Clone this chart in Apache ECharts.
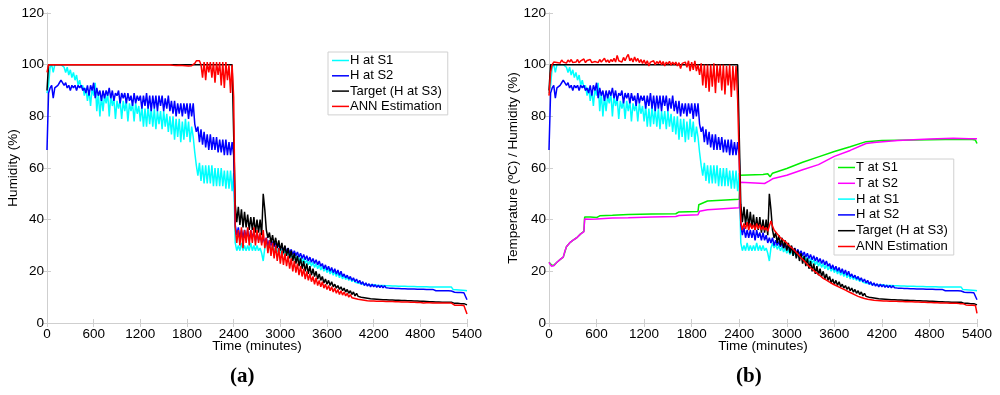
<!DOCTYPE html>
<html><head><meta charset="utf-8">
<script src="https://cdn.jsdelivr.net/npm/echarts@6/dist/echarts.min.js"></script>
<style>html,body{margin:0;padding:0;background:#fff}#c{width:1000px;height:395px}</style>
</head><body><div id="c"></div>
<script>
// time grid: one sample every STEP minutes, 0..5400
const STEP = 20;
const xTicks = [0, 600, 1200, 1800, 2400, 3000, 3600, 4200, 4800, 5400];
const yTicks = [0, 20, 40, 60, 80, 100, 120];
const legendA = ['H at S1', 'H at S2', 'Target (H at S3)', 'ANN Estimation'];
const legendB = ['T at S1', 'T at S2', 'H at S1', 'H at S2', 'Target (H at S3)', 'ANN Estimation'];

// Humidity at S1 (%), rows of 10 samples (200 min each)
const hS1 = [
 89, 92, 99, 100, 97, 100, 100, 100, 100, 100,
 100, 99, 97, 99, 96, 98, 95, 97, 94, 96,
 92, 94, 91, 92, 88, 91, 86, 90, 84, 91,
 88, 93, 82, 89, 80, 88, 82, 88, 85, 89,
 80, 88, 84, 87, 79, 86, 83, 86, 79, 86,
 82, 86, 78, 85, 82, 85, 78, 85, 81, 84,
 78, 84, 76, 83, 76, 84, 77, 83, 76, 83,
 75, 82, 77, 82, 75, 82, 76, 81, 74, 80,
 73, 80, 71, 79, 72, 79, 70, 78, 71, 79,
 72, 78, 70, 76, 72, 66, 61, 57, 62, 55,
 61, 54, 61, 54, 61, 54, 61, 53, 60, 53,
 60, 53, 60, 53, 59, 52, 59, 52, 59, 51,
 58, 31, 28, 30, 28, 31, 28, 30, 28, 30,
 28, 31, 28, 30, 28, 30, 28, 29, 27, 24,
 29, 31, 29, 30.5, 28.5, 30, 28, 29.5, 27.5, 29,
 27, 28.5, 26.5, 28, 26, 27.5, 25.5, 27, 25, 26.5,
 24.5, 26, 24, 25.5, 23.5, 25, 23, 24.5, 22.5, 24,
 22, 23.5, 21.5, 23, 21, 22.5, 20.5, 22, 20, 21.5,
 19.5, 21, 19, 20.5, 18.5, 20, 18, 19.5, 17.5, 19,
 17, 18.5, 16.8, 18, 16.5, 17.5, 16, 17, 15.8, 16.5,
 15.5, 16, 15.2, 15.8, 15, 15.6, 14.8, 15.5, 14.7, 15.3,
 14.8, 15.2, 14.6, 15, 14.5, 15.1, 14.5, 14.9, 14.4, 15,
 14.4, 14.8, 14.3, 14.9, 14.3, 14.7, 14.2, 14.8, 14.2, 14.6,
 14.2, 14.7, 14.1, 14.5, 14.1, 14.6, 14.1, 14.5, 14, 14.6,
 14, 14.4, 14, 14.5, 14, 14.3, 13.9, 14.4, 13.9, 14.2,
 13.9, 14.1, 13.9, 14, 13.9, 13.9, 13.9, 13.9, 13.9, 13.9,
 13.9, 13, 12.9, 12.9, 12.8, 12.8, 12.8, 12.7, 12.7, 12.6,
 12.5
];

// Humidity at S2 (%)
const hS2 = [
 67, 89, 91, 92, 87, 91, 91, 92, 93, 94,
 94, 92, 93, 91, 92, 90, 92, 91, 92, 90,
 92, 91, 92, 90, 91, 89, 92, 88, 92, 90,
 93, 87, 91, 88, 90, 86, 90, 87, 90, 88,
 91, 87, 90, 86, 89, 88, 90, 85, 89, 87,
 89, 85, 89, 86, 88, 84, 89, 85, 88, 86,
 88, 83, 88, 84, 89, 83, 88, 82, 88, 83,
 88, 82, 88, 84, 88, 82, 87, 83, 88, 82,
 86, 81, 86, 80, 85, 81, 85, 80, 85, 81,
 85, 79, 85, 80, 85, 77, 74, 76, 70, 75,
 69, 74, 68, 73, 67, 73, 67, 72, 67, 72,
 66, 71, 66, 71, 65, 71, 65, 70, 65, 70,
 65, 38, 34, 37, 33, 36, 33, 36, 33, 36,
 32, 36, 33, 35, 32, 35, 32, 34, 31, 33,
 31, 33, 30, 32, 30, 31.5, 29.5, 31, 29, 30.5,
 28.5, 30, 28, 29.5, 27.5, 29, 27, 28.5, 26.5, 28,
 26, 27.5, 25.5, 27, 25, 26.5, 24.5, 26, 24, 25.5,
 23.5, 25, 23, 24.5, 22.5, 24, 22, 23, 21, 22.5,
 20.5, 22, 20, 21.5, 19.5, 21, 19, 20.5, 18.5, 20,
 18, 19, 17.5, 18.5, 17, 18, 16.5, 17.5, 16, 17,
 15.5, 16.5, 15, 16, 14.5, 15.5, 14.3, 15.2, 14, 15,
 14, 14.8, 13.8, 14.6, 13.7, 14.5, 13.6, 14.4, 13.6, 14.3,
 13.5, 14.2, 13.5, 14.1, 13.4, 14, 13.4, 14, 13.3, 13.9,
 13.3, 13.9, 13.2, 13.8, 13.2, 13.7, 13.2, 13.7, 13.1, 13.6,
 13.1, 13.5, 13.1, 13.5, 13, 13.4, 13, 13.3, 13, 12.5,
 12.5, 12.6, 12.5, 12.6, 12.5, 12.5, 12.5, 12.5, 12.5, 12.5,
 12.4, 11.9, 11.9, 11.9, 11.8, 11.8, 11.8, 11.8, 11.7, 11.7,
 9
];

// Target: humidity at S3 (%)
const target = [
 90, 100, 100, 100, 100, 100, 100, 100, 100, 100,
 100, 100, 100, 100, 100, 100, 100, 100, 100, 100,
 100, 100, 100, 100, 100, 100, 100, 100, 100, 100,
 100, 100, 100, 100, 100, 100, 100, 100, 100, 100,
 100, 100, 100, 100, 100, 100, 100, 100, 100, 100,
 100, 100, 100, 100, 100, 100, 100, 100, 100, 100,
 100, 100, 100, 100, 100, 100, 100, 100, 100, 100,
 100, 100, 100, 100, 100, 100, 100, 100, 100, 100,
 100, 100, 100, 100, 100, 100, 100, 100, 100, 100,
 100, 100, 100, 100, 100, 100, 100, 100, 100, 100,
 100, 100, 100, 100, 100, 100, 100, 100, 100, 100,
 100, 100, 100, 100, 100, 100, 100, 100, 100, 100,
 100, 46, 39, 45, 38, 44, 37, 43, 37, 42,
 36, 41, 36, 41, 35, 40, 35, 40, 34, 50,
 44, 36, 33, 35, 31, 34, 30, 33, 29, 32,
 28, 31, 27, 30, 26, 29, 25, 28, 24, 27,
 23, 26, 22, 25, 21, 24, 20, 23, 19, 22,
 18.5, 21, 18, 20, 17, 19, 16.5, 18, 15.5, 17,
 15, 16.5, 14.5, 16, 14, 15, 13.5, 14.5, 13, 14,
 12.5, 13.5, 12, 13, 11.5, 12.5, 11, 12, 10.5, 11.5,
 10.3, 11, 10, 10.5, 9.8, 10.3, 9.6, 10, 9.4, 9.8,
 9.3, 9.6, 9.2, 9.5, 9.1, 9.4, 9, 9.3, 9, 9.2,
 8.9, 9.2, 8.9, 9.1, 8.8, 9.1, 8.8, 9, 8.7, 9,
 8.7, 8.9, 8.6, 8.9, 8.6, 8.8, 8.5, 8.8, 8.5, 8.7,
 8.4, 8.7, 8.4, 8.6, 8.3, 8.5, 8.2, 8.4, 8.2, 8.3,
 8.1, 8.3, 8.1, 8.2, 8, 8.2, 8, 8.1, 8, 8,
 8, 7.9, 7.6, 7.6, 7.6, 7.5, 7.5, 7.5, 7.5, 7.4,
 7
];

// ANN estimation, panel (a)
const annA = [
 97, 100, 100, 100, 100, 100, 100, 100, 100, 100,
 100, 100, 100, 100, 100, 100, 100, 100, 100, 100,
 100, 100, 100, 100, 100, 100, 100, 100, 99.8, 100,
 100, 100, 99.7, 100, 100, 100, 99.7, 100, 100, 100,
 99.7, 100, 100, 100, 99.6, 100, 100, 100, 99.7, 100,
 100, 100, 99.7, 100, 99.6, 100, 100, 100, 99.7, 100,
 99.5, 100, 99.3, 100, 99.5, 100, 99.3, 100, 99.6, 100,
 99.5, 100, 99.6, 100, 99.4, 100, 99.5, 100, 99.5, 100,
 99.4, 99.8, 99.3, 99.7, 99.5, 99.8, 99.3, 99.7, 99.4, 99.6,
 99.3, 99.5, 99.4, 99.6, 99.5, 100.5, 101.5, 101, 101.5, 100,
 95, 101, 94, 101, 97, 101, 95, 101, 93, 101,
 96, 101, 92, 101, 91, 101, 94, 100, 89, 100,
 87.5, 37, 31, 36, 30, 37, 29, 36, 31, 37,
 30, 36, 31, 37, 30, 36, 31, 35, 30, 36,
 29, 33, 27, 32, 26, 31, 25, 30, 24, 29,
 23, 28, 22.5, 27, 22, 26, 21, 25, 20, 24,
 19.5, 23, 18.5, 22, 18, 21, 17, 20, 16.5, 19,
 16, 18, 15, 17.5, 14.5, 16.5, 14, 16, 13.5, 15,
 13, 14.5, 12.5, 14, 12, 13.5, 11.5, 13, 11, 12.5,
 10.8, 12, 10.5, 11.5, 10, 11, 9.8, 10.5, 9.5, 10,
 9.2, 9.8, 9, 9.5, 8.8, 9.2, 8.6, 9, 8.5, 8.9,
 8.5, 8.8, 8.4, 8.7, 8.4, 8.7, 8.4, 8.6, 8.3, 8.6,
 8.3, 8.6, 8.3, 8.5, 8.2, 8.5, 8.2, 8.4, 8.1, 8.4,
 8.1, 8.4, 8.1, 8.3, 8, 8.3, 8, 8.2, 7.9, 8.2,
 7.9, 8.1, 7.7, 8.1, 7.8, 8, 7.8, 8, 7.7, 7.9,
 7.7, 7.9, 7.7, 7.8, 7.7, 7.8, 7.7, 7.8, 7.7, 7.7,
 7.7, 7.6, 6.9, 6.9, 6.9, 6.9, 6.9, 6.8, 6.8, 6.8,
 3.5
];

// ANN estimation, panel (b)
const annB = [
 88, 97, 100, 101, 101.5, 100.8, 101.5, 100.6, 101.8, 101,
 101.5, 100.6, 101.8, 101, 102, 100.8, 101.5, 101, 102, 100.7,
 101.5, 101, 102.2, 100.8, 101.6, 101, 102, 100.8, 101.5, 101.2,
 101.8, 100.8, 102, 101, 101.5, 102.5, 101, 101.8, 100.8, 102,
 101.2, 102.5, 101, 103.6, 101.5, 102, 101, 102.8, 101.5, 103,
 104, 101.5, 102.5, 101, 103, 101.3, 102.4, 100.8, 102, 100.5,
 101.8, 100.2, 101.5, 99.5, 101, 100.5, 101.5, 100, 101.2, 100.4,
 101.5, 100, 101.2, 99.5, 101, 100.2, 101.3, 99.8, 101, 100,
 101, 99.5, 100.8, 98.5, 100.5, 99.8, 101, 99, 101.5, 97.5,
 101, 98, 101.5, 97.5, 100, 96, 100.5, 92, 100, 91,
 100, 89.5, 100, 91.5, 100.5, 89, 100, 93, 100, 90,
 100, 88.5, 99.5, 92, 100, 87.5, 99.5, 90, 99.5, 86.5,
 86, 39, 36, 38.5, 36.5, 39, 36, 38.5, 36.5, 38,
 36, 38.5, 36.5, 38, 36, 37.5, 36, 37, 35.5, 37.5,
 39.5, 37.5, 36, 35.5, 34.5, 34, 33, 32.5, 32, 31.5,
 31, 30.2, 30, 29.2, 29, 28, 27.6, 26.7, 26.2, 25.2,
 24.8, 24, 23.5, 22.6, 22.3, 21.4, 21.1, 20.3, 20, 19.3,
 19, 18.3, 18, 17.3, 17.2, 16.6, 16.4, 15.8, 15.6, 15.1,
 15, 14.5, 14.4, 13.9, 13.8, 13.3, 13.2, 12.7, 12.6, 12.1,
 12, 11.5, 11.4, 10.9, 10.8, 10.3, 10.3, 9.9, 9.9, 9.5,
 9.5, 9.2, 9.3, 9, 9.1, 8.8, 9, 8.7, 8.9, 8.6,
 8.8, 8.5, 8.8, 8.5, 8.7, 8.4, 8.7, 8.4, 8.6, 8.4,
 8.6, 8.3, 8.5, 8.3, 8.5, 8.2, 8.4, 8.2, 8.4, 8.2,
 8.3, 8.1, 8.3, 8.1, 8.2, 8, 8.2, 8, 8.1, 7.9,
 8.1, 7.9, 8, 7.8, 8, 7.8, 7.9, 7.7, 7.9, 7.7,
 7.8, 7.7, 7.8, 7.6, 7.7, 7.6, 7.7, 7.6, 7.6, 7.5,
 7.5, 7.5, 7, 7, 6.9, 6.9, 6.9, 6.9, 6.8, 6.8,
 3.7
];

// Temperatures (ºC): [minute, value] breakpoints
const tS1 = [[0,23.5],[30,22.5],[60,22.3],[100,23.5],[150,24.8],[180,25.5],[200,27.5],[220,29.5],[260,31],[300,32],[350,33],[400,34.5],[440,35.5],[450,41],[520,41],[600,40.8],[640,41.5],[800,41.7],[1000,42],[1300,42.2],[1600,42.3],[1640,43],[1880,43.2],[1890,45.8],[2000,47.2],[2020,47.6],[2400,47.9],[2410,57.2],[2700,57.5],[2760,57.8],[2790,56.6],[2820,58],[3000,59.8],[3200,62.2],[3400,64.3],[3600,66.4],[3800,68.2],[4000,70.2],[4200,70.6],[4600,70.8],[5000,71],[5300,71],[5320,70.4],[5340,71],[5380,70.8],[5400,69.5]];
const tS2 = [[0,23.5],[30,22],[60,22.2],[100,23.5],[150,24.8],[180,25.5],[200,27.8],[220,29.5],[260,31],[300,32],[350,33],[400,34.5],[440,35.3],[450,40.3],[520,40.2],[600,40.3],[800,40.6],[1000,40.7],[1300,41],[1600,41.2],[1640,41.6],[1880,41.9],[1900,43.3],[2000,43.8],[2400,44.6],[2410,54.5],[2600,54.2],[2720,54],[2780,55],[2820,55.8],[3000,57.2],[3200,59.3],[3400,61.3],[3600,64.5],[3800,66.8],[4000,69.5],[4100,69.9],[4400,70.6],[4800,71.2],[5100,71.5],[5300,71.3],[5400,71.3]];

const N = 5400 / STEP + 1;
[['hS1',hS1],['hS2',hS2],['target',target],['annA',annA],['annB',annB]].forEach(([n,a]) => {
  if (a.length !== N) throw new Error(n + ' has ' + a.length + ' values, expected ' + N);
});
const toPairs = a => a.map((v, i) => [i * STEP, v]);

const FONT = 'Liberation Sans, Arial, sans-serif';
const frameColor = '#cfcfcf';
const colors = { 'H at S1': '#00ffff', 'H at S2': '#0000ff', 'Target (H at S3)': '#000000', 'ANN Estimation': '#ff0000', 'T at S1': '#00ee00', 'T at S2': '#ff00ff' };

function axesFor(yName, nameGap) {
  const xb = { type: 'value', min: 0, max: 5400, interval: 600, position: 'bottom',
    name: 'Time (minutes)', nameLocation: 'middle', nameGap: 16, nameMoveOverlap: false,
    nameTextStyle: { fontFamily: FONT, fontSize: 13.5, color: '#000' },
    axisLine: { lineStyle: { color: frameColor } },
    axisTick: { inside: true, length: 4, lineStyle: { color: frameColor } },
    axisLabel: { fontFamily: FONT, fontSize: 13.5, color: '#000', margin: 4, formatter: v => String(v) },
    splitLine: { show: false } };
  const xt = { type: 'value', min: 0, max: 5400, interval: 600, position: 'top',
    axisLine: { lineStyle: { color: frameColor } },
    axisTick: { inside: true, length: 4, lineStyle: { color: frameColor } },
    axisLabel: { show: false }, splitLine: { show: false } };
  const yl = { type: 'value', min: 0, max: 120, interval: 20, position: 'left',
    name: yName, nameLocation: 'middle', nameGap: nameGap, nameRotate: 90, nameMoveOverlap: false,
    nameTextStyle: { fontFamily: FONT, fontSize: 13.5, color: '#000' },
    axisLine: { show: true, lineStyle: { color: frameColor } },
    axisTick: { show: true, inside: true, length: 4, lineStyle: { color: frameColor } },
    axisLabel: { fontFamily: FONT, fontSize: 13.5, color: '#000', margin: 3, formatter: v => String(v) },
    splitLine: { show: false } };
  const yr = { type: 'value', min: 0, max: 120, interval: 20, position: 'right',
    axisLine: { show: true, lineStyle: { color: frameColor } },
    axisTick: { show: true, inside: true, length: 4, lineStyle: { color: frameColor } },
    axisLabel: { show: false }, splitLine: { show: false } };
  return { x: [xb, xt], y: [yl, yr] };
}

const A = axesFor('Humidity (%)', 27);
const B = axesFor('Temperature (ºC) / Humidity (%)', 29);

function line(name, data, xi, yi) {
  return { name, type: 'line', data, xAxisIndex: xi, yAxisIndex: yi, symbol: 'none', showSymbol: false,
    animation: false, silent: true,
    lineStyle: { color: colors[name], width: 1.5 }, itemStyle: { color: colors[name] } };
}

const series = [
  line('H at S1', toPairs(hS1), 0, 0),
  line('H at S2', toPairs(hS2), 0, 0),
  line('Target (H at S3)', toPairs(target), 0, 0),
  line('ANN Estimation', toPairs(annA), 0, 0),
  line('T at S1', tS1, 2, 2),
  line('T at S2', tS2, 2, 2),
  line('H at S1', toPairs(hS1), 2, 2),
  line('H at S2', toPairs(hS2), 2, 2),
  line('Target (H at S3)', toPairs(target), 2, 2),
  line('ANN Estimation', toPairs(annB), 2, 2)
];

const legendCommon = { orient: 'vertical', icon: 'rect', itemWidth: 17, itemHeight: 1.5, backgroundColor: '#fff',
  borderColor: '#d0d0d0', borderWidth: 1, borderRadius: 0, selectedMode: false,
  textStyle: { fontFamily: FONT, fontSize: 13, color: '#000', padding: [0, 0, 0, -4] } };

const option = {
  animation: false,
  backgroundColor: '#fff',
  grid: [
    { left: 47, top: 13, width: 420, height: 310 },
    { left: 549, top: 13, width: 428, height: 310 }
  ],
  xAxis: [A.x[0], A.x[1], B.x[0], B.x[1]].map((a, i) => Object.assign(a, { gridIndex: i < 2 ? 0 : 1 })),
  yAxis: [A.y[0], A.y[1], B.y[0], B.y[1]].map((a, i) => Object.assign(a, { gridIndex: i < 2 ? 0 : 1 })),
  legend: [
    Object.assign({}, legendCommon, { data: legendA, left: 328, top: 52, itemGap: 2.3, padding: [2, 6, 2, 4] }),
    Object.assign({}, legendCommon, { data: legendB, left: 834, top: 159, itemGap: 2.8, padding: [2, 6, 2, 4] })
  ],
  graphic: [
    { type: 'text', left: 230, top: 366, style: { text: '(a)', font: 'bold 21px "Liberation Serif", serif', fill: '#000' } },
    { type: 'text', left: 736, top: 366, style: { text: '(b)', font: 'bold 21px "Liberation Serif", serif', fill: '#000' } }
  ],
  series
};

const chart = echarts.init(document.getElementById('c'), null, { renderer: 'canvas' });
chart.setOption(option);
</script>
</body></html>
